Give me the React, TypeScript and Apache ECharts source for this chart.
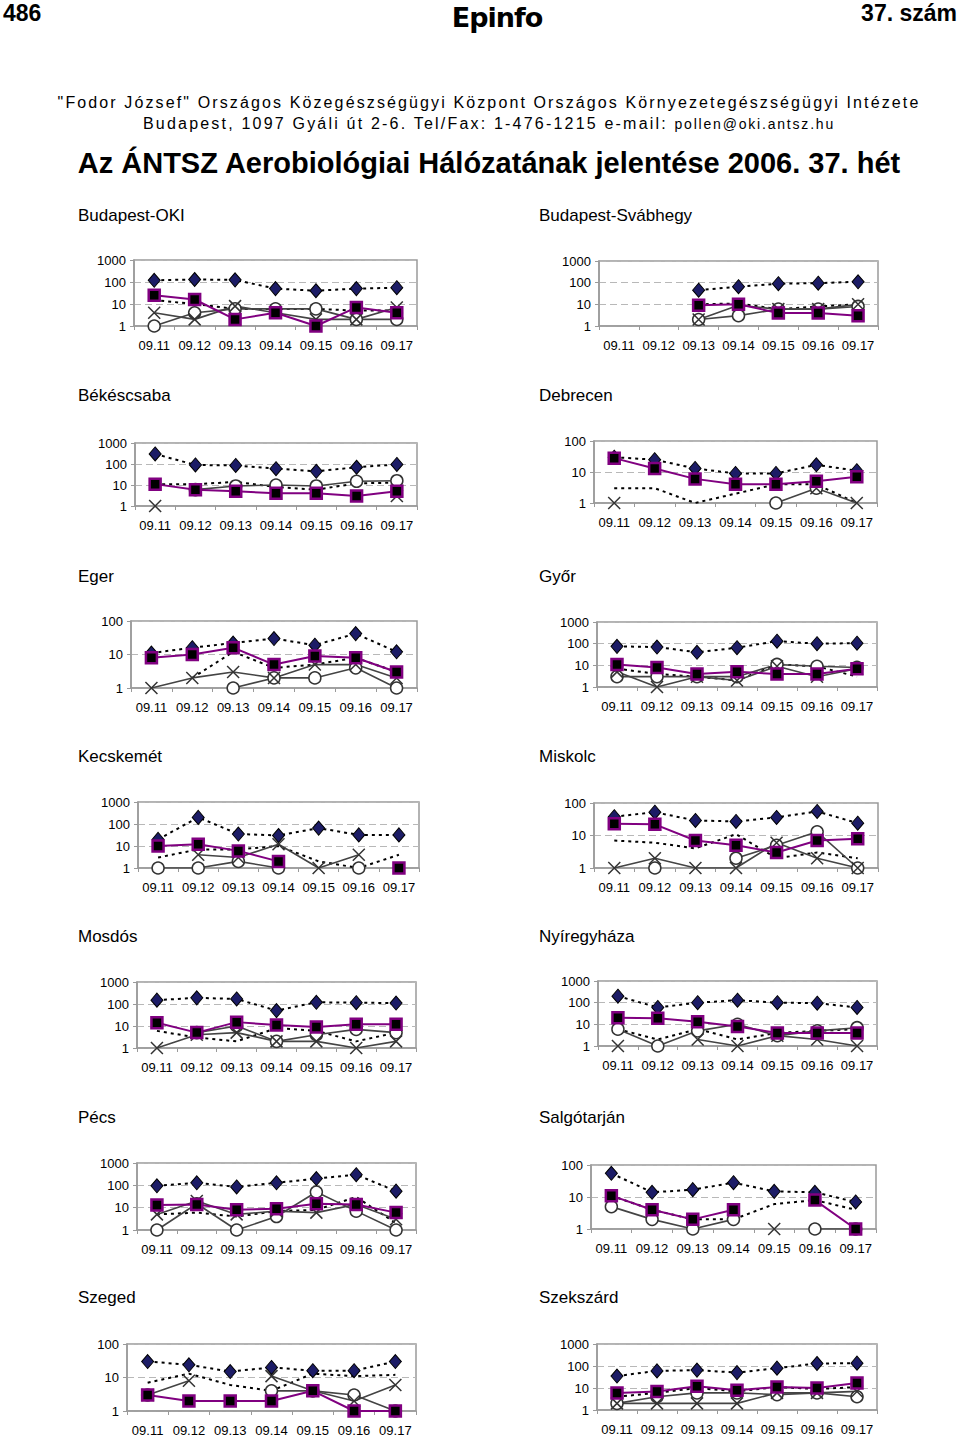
import React, { useEffect, useRef } from "react";
import * as echarts from "echarts";

const n = null;
const days = ["09.11", "09.12", "09.13", "09.14", "09.15", "09.16", "09.17"];

// each station: [diamond, square, circle, cross, dashed]
const budapestOKI = [
  [120, 130, 125, 50, 40, 50, 55],
  [25, 16, 2, 4, 1, 7, 4],
  [1, 4, 6, 6, 6, 2, 2],
  [4, 2, 8, 4, 2, 2, 7],
  [15, 10, 6, 6, 6, 5, 5],
];
const budapestSvabhegy = [
  [n, n, 45, 65, 90, 95, 110],
  [n, n, 9, 10, 4, 4, 3],
  [n, n, 2, 3, 6, 6, 8],
  [n, n, 2, 9, 6, 6, 10],
  [n, n, 10, 11, 6, 8, 10],
];
const bekescsaba = [
  [300, 90, 85, 60, 45, 70, 95],
  [11, 6, 5, 4, 4, 3, 5],
  [n, 6, 9, 10, 9, 15, 16],
  [1, n, n, n, n, n, 3],
  [11, 11, 14, 8, 6, 12, 13],
];
const debrecen = [
  [30, 25, 13, 9, 9, 17, 11],
  [28, 13, 6, 4, 4, 5, 7],
  [n, n, n, n, 1, 3, n],
  [1, n, n, n, n, 3, 1],
  [3, 3, 1, 2, 4, 4, 1],
];
const eger = [
  [11, 16, 22, 30, 19, 42, 12],
  [8, 10, 16, 5, 9, 8, 3],
  [n, n, 1, 2, 2, 4, 1],
  [1, 2, 3, 2, 5, 5, 2],
  [n, 2, 12, 4, 5, 8, 3],
];
const gyor = [
  [75, 70, 40, 65, 130, 100, 105],
  [11, 8, 4, 5, 4, 4, 7],
  [3, 3, 3, 3, 11, 9, 8],
  [5, 1, 3, 2, 9, 3, 7],
  [7, 4, 3, 2, 11, 9, 3],
];
const kecskemet = [
  [20, 200, 35, 30, 65, 32, 32],
  [10, 12, 6, 2, n, n, 1],
  [1, 1, 2, 1, n, 1, n],
  [n, 4, 3, 12, 1, 4, n],
  [3, 7, 7, 10, 2, 1, 4],
];
const miskolc = [
  [38, 52, 29, 27, 36, 55, 24],
  [23, 22, 7, 5, 3, 7, 8],
  [n, 1, n, 2, 5, 13, 1],
  [1, 2, 1, 1, 6, 2, 1],
  [7, 6, 4, 11, 2, 3, 2],
];
const mosdos = [
  [150, 190, 170, 50, 120, 115, 110],
  [14, 5, 15, 11, 9, 12, 12],
  [n, 5, 10, 2, 4, 7, 5],
  [1, 4, 5, 2, 2, 1, 2],
  [6, 3, 2, 8, 6, 2, 5],
];
const nyiregyhaza = [
  [200, 60, 100, 130, 100, 95, 60],
  [20, 19, 13, 8, 4, 4, 4],
  [6, 1, 5, 10, 3, 5, 7],
  [1, n, 2, 1, 3, 2, 1],
  [6, 2, 6, 2, 4, 5, 6],
];
const pecs = [
  [95, 130, 85, 130, 200, 300, 55],
  [13, 14, 8, 9, 15, 14, 6],
  [1, 15, 1, 4, 50, 7, 1],
  [5, 20, 5, 7, 6, 14, 3],
  [5, 6, 4, 7, 8, 30, 2],
];
const salgotarjan = [
  [55, 14, 17, 28, 15, 14, 7],
  [11, 4, 2, 4, n, 8, 1],
  [5, 2, 1, 2, n, 1, 1],
  [n, n, n, n, 1, n, n],
  [11, 4, 2, 2, 6, 8, 4],
];
const szeged = [
  [30, 24, 15, 20, 16, 16, 30],
  [3, 2, 2, 2, 4, 1, 1],
  [3, n, n, 4, 4, 3, 1],
  [3, 8, n, 11, 4, 2, 6],
  [7, 13, 6, 4, 13, 11, 12],
];
const szekszard = [
  [35, 60, 65, 50, 80, 130, 135],
  [6, 7, 12, 8, 11, 10, 17],
  [2, 4, 6, 6, 5, 6, 4],
  [2, 2, 2, 2, 6, 6, 7],
  [4, 6, 10, 7, 11, 9, 11],
];

const stationNames = [
  "Budapest-OKI", "Budapest-Svábhegy", "Békéscsaba", "Debrecen", "Eger", "Győr",
  "Kecskemét", "Miskolc", "Mosdós", "Nyíregyháza", "Pécs", "Salgótarján", "Szeged", "Szekszárd",
];
const stationData = [
  budapestOKI, budapestSvabhegy, bekescsaba, debrecen, eger, gyor,
  kecskemet, miskolc, mosdos, nyiregyhaza, pecs, salgotarjan, szeged, szekszard,
];
const axisMax = [1000, 1000, 1000, 100, 100, 1000, 1000, 100, 1000, 1000, 1000, 100, 100, 1000];

// layout (page px): left, top, width, height
const layouts = [
  [134, 260, 283, 66], [599, 261, 279, 65],
  [135, 443, 282, 63], [594, 441, 283, 62],
  [131, 621, 286, 67], [597, 622, 280, 65],
  [138, 802, 281, 66], [594, 803, 284, 65],
  [137, 982, 279, 66], [598, 981, 279, 65],
  [137, 1163, 279, 67], [591, 1165, 285, 64],
  [127, 1344, 289, 67], [597, 1344, 280, 66],
];
const titleRowsY = [215, 395, 576, 756, 936, 1117, 1297];

const FONT = "'Liberation Sans', Arial, sans-serif";
const GRAY = "#9a9a9a";

function buildOption() {
  const grid: any[] = [];
  const xAxis: any[] = [];
  const yAxis: any[] = [];
  const series: any[] = [];
  const graphic: any[] = [];

  stationNames.forEach((name, i) => {
    const [left, top, width, height] = layouts[i];
    const d = stationData[i];
    grid.push({ left, top, width, height, show: true, borderColor: GRAY, borderWidth: 1.5, backgroundColor: "transparent" });
    xAxis.push({
      type: "category", gridIndex: i, data: days, boundaryGap: true,
      axisLine: { lineStyle: { color: GRAY, width: 1.5 } },
      axisTick: { show: true, length: 4, lineStyle: { color: GRAY } },
      axisLabel: { color: "#000", fontSize: 13, fontFamily: FONT, margin: 13, interval: 0 },
      splitLine: { show: false },
    });
    yAxis.push({
      type: "log", logBase: 10, gridIndex: i, min: 1, max: axisMax[i],
      axisLine: { show: true, lineStyle: { color: GRAY, width: 1.5 } },
      axisTick: { show: true, length: 4, lineStyle: { color: GRAY } },
      axisLabel: { color: "#000", fontSize: 13, fontFamily: FONT, margin: 8, formatter: (v: number) => String(Math.round(v)) },
      splitLine: { show: true, lineStyle: { color: "#b8b8b8", type: [7, 4], width: 1 } },
      minorTick: { show: false },
      minorSplitLine: { show: false },
    });
    const base = { type: "line", xAxisIndex: i, yAxisIndex: i, connectNulls: false, animation: false };
    // dashed, no marker
    series.push({ ...base, data: d[4], showSymbol: false, symbol: "none", lineStyle: { color: "#000", width: 2, type: [3, 4] } });
    // circle
    series.push({
      ...base, data: d[2], symbol: "circle", symbolSize: 12,
      itemStyle: { color: "#fff", borderColor: "#333", borderWidth: 1.5 },
      lineStyle: { color: "#444", width: 1.6 },
    });
    // cross
    series.push({
      ...base, data: d[3], symbol: "path://M0,0L10,10M10,0L0,10", symbolSize: 12,
      itemStyle: { color: "none", borderColor: "#333", borderWidth: 1.5 },
      lineStyle: { color: "#444", width: 1.6 },
    });
    // diamond
    series.push({
      ...base, data: d[0], symbol: "diamond", symbolSize: [12, 14],
      itemStyle: { color: "#1c1c66", borderColor: "#000", borderWidth: 1 },
      lineStyle: { color: "#000", width: 2, type: [3, 4] },
    });
    // square
    series.push({
      ...base, data: d[1], symbol: "rect", symbolSize: 11,
      itemStyle: { color: "#000", borderColor: "#800080", borderWidth: 2.5 },
      lineStyle: { color: "#800080", width: 2 },
    });
    graphic.push({
      type: "text",
      x: i % 2 === 0 ? 78 : 539,
      y: titleRowsY[Math.floor(i / 2)],
      style: { text: name, fontSize: 17, fontFamily: FONT, fill: "#000", verticalAlign: "middle" },
    });
  });

  return { animation: false, backgroundColor: "transparent", grid, xAxis, yAxis, series, graphic };
}

export default function App() {
  const ref = useRef<HTMLDivElement>(null);
  useEffect(() => {
    if (!ref.current) return;
    const chart = echarts.init(ref.current, undefined, { renderer: "svg" });
    chart.setOption(buildOption() as any);
    return () => chart.dispose();
  }, []);

  const textBase: React.CSSProperties = { position: "absolute", whiteSpace: "nowrap", fontFamily: FONT, color: "#000" };
  return (
    <div style={{ position: "absolute", left: 0, top: 0, width: 960, height: 1438, background: "#fff", overflow: "hidden" }}>
      <div style={{ ...textBase, left: 3, top: 1, fontSize: 23, fontWeight: 700, lineHeight: "24px" }}>486</div>
      <div style={{ ...textBase, left: 447, top: 2, width: 100, textAlign: "center", fontSize: 27, fontWeight: 900, lineHeight: "32px", fontFamily: "'DejaVu Sans', sans-serif", letterSpacing: -1 }}>Epinfo</div>
      <div style={{ ...textBase, right: 3, top: 1, fontSize: 23, fontWeight: 700, lineHeight: "24px" }}>37. szám</div>
      <div style={{ ...textBase, left: 9, width: 960, top: 93, textAlign: "center", fontSize: 16, lineHeight: "20px", letterSpacing: 2.12 }}>
        "Fodor József" Országos Közegészségügyi Központ Országos Környezetegészségügyi Intézete
      </div>
      <div style={{ ...textBase, left: 9, width: 960, top: 114, textAlign: "center", fontSize: 16, lineHeight: "20px", letterSpacing: 2.2 }}>
        Budapest, 1097 Gyáli út 2-6. Tel/Fax: 1-476-1215 e-mail: <span style={{ fontSize: 14, letterSpacing: 1.8 }}>pollen@oki.antsz.hu</span>
      </div>
      <div style={{ ...textBase, left: 9, width: 960, top: 145, textAlign: "center", fontSize: 29, fontWeight: 700, lineHeight: "36px" }}>
        Az ÁNTSZ Aerobiológiai Hálózatának jelentése 2006. 37. hét
      </div>
      <div ref={ref} style={{ position: "absolute", left: 0, top: 0, width: 960, height: 1438 }} />
    </div>
  );
}
